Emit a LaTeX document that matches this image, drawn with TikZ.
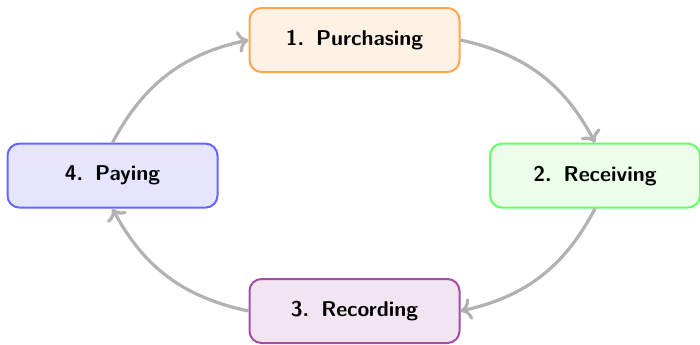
\documentclass[tikz,border=0pt]{standalone}
\usetikzlibrary{arrows.meta}
\begin{document}
\begin{tikzpicture}[x=1pt,y=1pt,
  stage/.style={draw, rounded corners=6pt, line width=1pt, minimum width=105pt, minimum height=32pt, font=\fontsize{10.7}{13}\selectfont\sffamily\bfseries, align=center},
  flow/.style={draw=gray!60, line width=1.6pt, -{Computer Modern Rightarrow[width=11pt,length=5.5pt]}, bend left=25}
]
\useasboundingbox (0,0) rectangle (350,172);
\node[stage, draw=orange!70, fill=orange!10] (p) at (177.25,152) {1.\hspace{6pt}Purchasing};
\node[stage, draw=green!60, fill=green!8] (r) at (297.5,84.2) {2.\hspace{6pt}Receiving};
\node[stage, draw=violet!70, fill=violet!10] (c) at (177.25,16.5) {3.\hspace{6pt}Recording};
\node[stage, draw=blue!60, fill=blue!10] (y) at (56.25,84.2) {4.\hspace{6pt}Paying};
\draw[flow] (p.east) to (r.north);
\draw[flow] (r.south) to (c.east);
\draw[flow] (c.west) to (y.south);
\draw[flow] (y.north) to (p.west);
\end{tikzpicture}
\end{document}
